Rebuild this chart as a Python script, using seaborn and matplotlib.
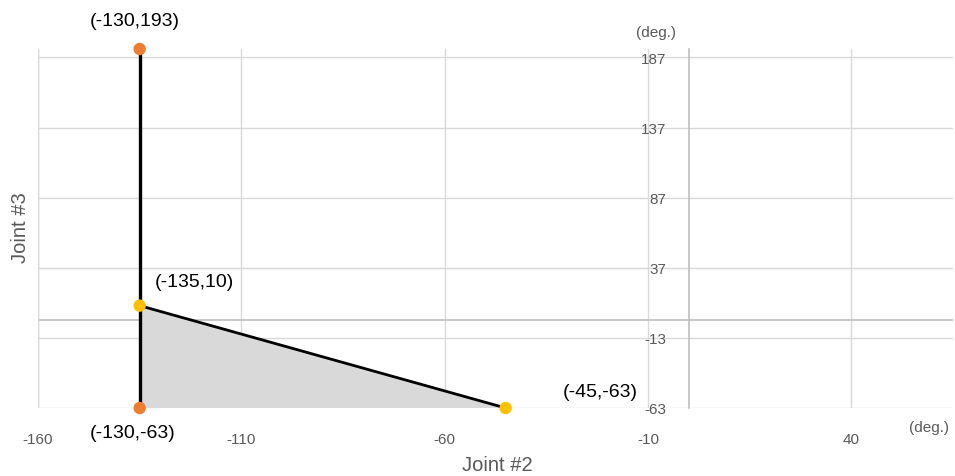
import matplotlib
matplotlib.use("Agg")
import matplotlib.pyplot as plt
import seaborn as sns
import pandas as pd

# Joint #2 / Joint #3 interference limits (degrees)
limit_j2 = [-135, -135]
limit_j3 = [193, -63]
slope_j2 = [-135, -45]
slope_j3 = [10, -63]
point_labels = ["(-130,193)", "(-130,-63)", "(-135,10)", "(-45,-63)"]

x_ticks = [-160, -110, -60, -10, 40]
y_ticks = [-63, -13, 37, 87, 137, 187]
x_range = (-160, 65)
y_range = (-63, 193)

ORANGE = "#ED7D31"
YELLOW = "#FFC000"
GRID = "#d9d9d9"
AXIS = "#bfbfbf"
TEXT_GRAY = "#595959"

sns.set_theme(style="white")
plt.rcParams["font.family"] = ["Liberation Sans", "DejaVu Sans"]
plt.rcParams["axes.unicode_minus"] = False

fig = plt.figure(figsize=(9.55, 4.77), dpi=100)
ax = fig.add_axes([38 / 955, (477 - 409) / 477, (953 - 38) / 955, (409 - 50) / 477])

limit_df = pd.DataFrame({"j2": limit_j2, "j3": limit_j3})
slope_df = pd.DataFrame({"j2": slope_j2, "j3": slope_j3})

# shaded triangle below the slanted limit
ax.fill(slope_j2 + [limit_j2[1]], slope_j3 + [limit_j3[1]],
        color="#d9d9d9", lw=0, zorder=2)

sns.lineplot(data=limit_df, x="j2", y="j3", sort=False, estimator=None,
             color="black", lw=2.4, ax=ax, zorder=3)
sns.lineplot(data=slope_df, x="j2", y="j3", sort=False, estimator=None,
             color="black", lw=2.0, ax=ax, zorder=3)
sns.scatterplot(data=limit_df, x="j2", y="j3", color=ORANGE, s=80,
                edgecolor="none", ax=ax, zorder=5, clip_on=False)
sns.scatterplot(data=slope_df, x="j2", y="j3", color=YELLOW, s=80,
                edgecolor="none", ax=ax, zorder=5, clip_on=False)

ax.set_xlim(*x_range)
ax.set_ylim(*y_range)
ax.set_xticks(x_ticks)
ax.set_yticks(y_ticks)
ax.grid(True, color=GRID, lw=1.0, zorder=0)
ax.set_axisbelow(True)

for side in ["top", "right", "bottom"]:
    ax.spines[side].set_visible(False)
ax.spines["left"].set_position(("data", 0))
ax.spines["left"].set_color(AXIS)
ax.spines["left"].set_linewidth(1.2)
ax.axhline(0, color=AXIS, lw=1.2, zorder=1)
ax.axvline(x_range[0], color=GRID, lw=1.0, zorder=1)

ax.tick_params(axis="both", length=0, labelsize=11, labelcolor=TEXT_GRAY)
ax.tick_params(axis="x", pad=17)
ax.tick_params(axis="y", pad=16)

ax.set_xlabel("")
ax.set_ylabel("")
fig.text(497 / 955, 1 - 466 / 477, "Joint #2", fontsize=14.5,
         color=TEXT_GRAY, ha="center", va="center")
fig.text(20 / 955, 1 - 228 / 477, "Joint #3", rotation=90, fontsize=14.5,
         color=TEXT_GRAY, ha="center", va="center")

fig.text(656 / 955, 1 - 33 / 477, "(deg.)", fontsize=11, color=TEXT_GRAY,
         ha="center", va="center")
fig.text(929 / 955, 1 - 428 / 477, "(deg.)", fontsize=11, color=TEXT_GRAY,
         ha="center", va="center")

# point annotations
ax.annotate(point_labels[0], (limit_j2[0], limit_j3[0]), xytext=(-5, 29),
            textcoords="offset pixels", ha="center", va="center", fontsize=14,
            color="black", annotation_clip=False)
ax.annotate(point_labels[1], (limit_j2[1], limit_j3[1]), xytext=(-7, -25),
            textcoords="offset pixels", ha="center", va="center", fontsize=14,
            color="black", annotation_clip=False)
ax.annotate(point_labels[2], (slope_j2[0], slope_j3[0]), xytext=(55, 24),
            textcoords="offset pixels", ha="center", va="center", fontsize=14,
            color="black", annotation_clip=False)
ax.annotate(point_labels[3], (slope_j2[1], slope_j3[1]), xytext=(95, 16),
            textcoords="offset pixels", ha="center", va="center", fontsize=14,
            color="black", annotation_clip=False)

fig.savefig("out.png", dpi=100)
